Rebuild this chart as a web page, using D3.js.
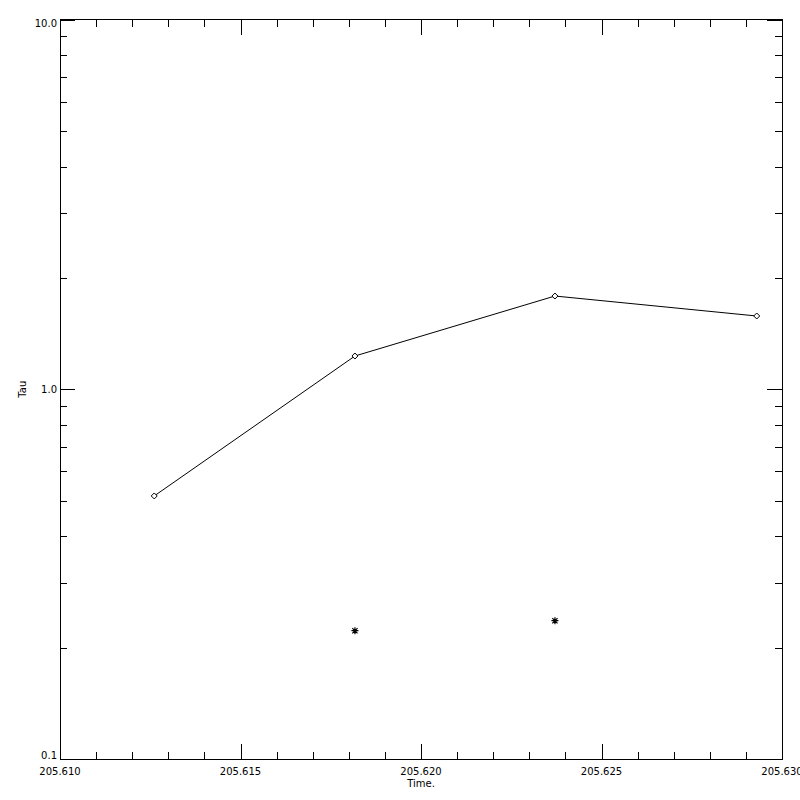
<!DOCTYPE html>
<html>
<head>
<meta charset="utf-8">
<script src="https://cdn.jsdelivr.net/npm/d3@7"></script>
<style>
html,body{margin:0;padding:0;background:#fff;}
svg{display:block;}
text{font-family:"DejaVu Sans",sans-serif;font-size:10px;fill:#000;}
</style>
</head>
<body>
<svg id="chart" width="800" height="800"></svg>
<script>
// ---- data ----
const times = [205.61261, 205.61817, 205.62371, 205.62930];
const tauLine = [0.5145, 1.230, 1.787, 1.578];
const starTimes = [205.61817, 205.62371];
const tauStar = [0.2223, 0.2366];
const xTickLabels = ["205.610", "205.615", "205.620", "205.625", "205.630"];
const yTickLabels = ["0.1", "1.0", "10.0"];
const xTitle = "Time.";
const yTitle = "Tau";

// ---- layout ----
const L = 60, R = 782, T = 19.5, B = 759;
const svg = d3.select("#chart");
const x = d3.scaleLinear().domain([205.610, 205.630]).range([L, R]);
const y = d3.scaleLog().domain([0.1, 10]).range([B, T]);

const majorLen = 15, minorLen = 7;
const g = svg.append("g").attr("stroke", "#000").attr("stroke-width", 1).attr("shape-rendering", "crispEdges");

// frame
g.append("rect").attr("x", L).attr("y", T).attr("width", R - L).attr("height", B - T).attr("fill", "none");

// x ticks
const xMajor = xTickLabels.map(Number);
const xMinor = d3.range(0, 21).map(i => 205.610 + i * 0.001).filter(v => !xMajor.some(m => Math.abs(m - v) < 1e-7));
function xticks(vals, len) {
  vals.forEach(v => {
    const px = Math.round(x(v)) + 0.5;
    g.append("line").attr("x1", px).attr("x2", px).attr("y1", B).attr("y2", B - len);
    g.append("line").attr("x1", px).attr("x2", px).attr("y1", T).attr("y2", T + len);
  });
}
xticks(xMajor, majorLen);
xticks(xMinor, minorLen);

// y ticks
const yMajor = yTickLabels.map(Number);
const yMinor = [];
[0.1, 1].forEach(d => { for (let k = 2; k <= 9; k++) yMinor.push(d * k); });
function yticks(vals, len) {
  vals.forEach(v => {
    const py = Math.round(y(v)) + 0.5;
    g.append("line").attr("y1", py).attr("y2", py).attr("x1", L).attr("x2", L + len);
    g.append("line").attr("y1", py).attr("y2", py).attr("x1", R).attr("x2", R - len);
  });
}
yticks(yMajor, majorLen);
yticks(yMinor, minorLen);

// labels
svg.append("g").selectAll("text").data(xTickLabels).join("text")
  .attr("x", d => x(+d)).attr("y", 775).attr("text-anchor", "middle").text(d => d);
svg.append("g").selectAll("text").data(yTickLabels).join("text")
  .attr("x", 57).attr("y", d => Math.min(Math.max(y(+d), T + 4), B - 4) + 3.5)
  .attr("text-anchor", "end").text(d => d);
svg.append("text").attr("x", (L + R) / 2).attr("y", 787).attr("text-anchor", "middle").text(xTitle);
svg.append("text").attr("transform", `translate(26,${(T + B) / 2}) rotate(-90)`)
  .attr("text-anchor", "middle").text(yTitle);

// line
const pts = times.map((t, i) => [x(t), y(tauLine[i])]);
svg.append("path").attr("d", d3.line()(pts)).attr("fill", "none").attr("stroke", "#000").attr("stroke-width", 1);
svg.append("g").selectAll("path").data(pts).join("path")
  .attr("d", d => `M${d[0]-3},${d[1]}L${d[0]},${d[1]-3}L${d[0]+3},${d[1]}L${d[0]},${d[1]+3}Z`)
  .attr("fill", "#fff").attr("stroke", "#000").attr("stroke-width", 1);

// asterisks
const sp = starTimes.map((t, i) => [x(t), y(tauStar[i])]);
const r = 3.5, rd = 2.6;
svg.append("g").selectAll("path").data(sp).join("path")
  .attr("d", d => `M${d[0]-r},${d[1]}L${d[0]+r},${d[1]}M${d[0]},${d[1]-r}L${d[0]},${d[1]+r}` +
    `M${d[0]-rd},${d[1]-rd}L${d[0]+rd},${d[1]+rd}M${d[0]-rd},${d[1]+rd}L${d[0]+rd},${d[1]-rd}`)
  .attr("fill", "none").attr("stroke", "#000").attr("stroke-width", 1.2);
</script>
</body>
</html>
